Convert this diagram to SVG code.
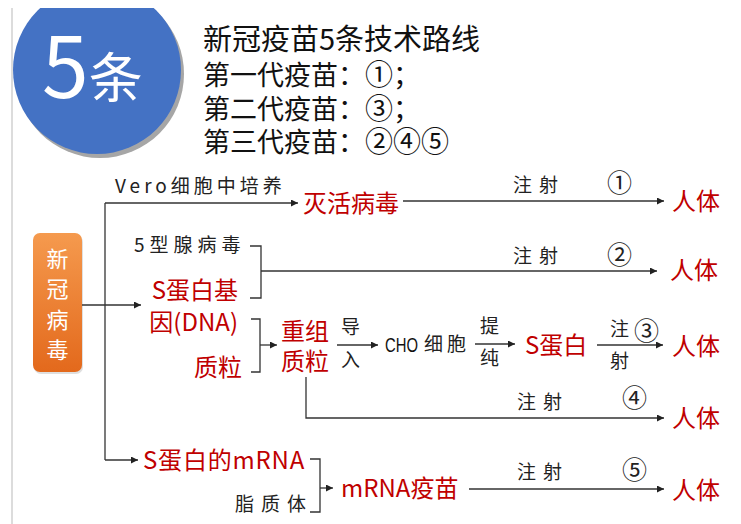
<svg xmlns="http://www.w3.org/2000/svg" width="741" height="524" viewBox="0 0 741 524">
<style>
.cjk{font-family:"Noto Sans CJK SC","Noto Sans",sans-serif}
.red{fill:#c00000;font-size:24px}
.lab{fill:#222;font-size:19px}
.num{fill:#222;font-size:25px}
.ln{stroke:#333;stroke-width:1.3;fill:none}
.br{stroke:#333;stroke-width:1.3;fill:none}
</style>
<defs>
<marker id="ah" markerUnits="userSpaceOnUse" markerWidth="8" markerHeight="8" refX="7" refY="3.5" orient="auto">
<path d="M0,0 L7,3.5 L0,7 z" fill="#222"/>
</marker>
<linearGradient id="og" x1="0" y1="0" x2="0" y2="1">
<stop offset="0" stop-color="#f59a4e"/>
<stop offset="1" stop-color="#e3691c"/>
</linearGradient>
<clipPath id="cp"><rect x="12" y="8" width="729" height="516"/></clipPath>
</defs>
<rect x="0" y="0" width="741" height="524" fill="#fff"/>
<line x1="12" y1="8" x2="12" y2="524" stroke="#dcdcdc" stroke-width="2"/>
<g id="badge" clip-path="url(#cp)">
<circle cx="100" cy="74" r="84" fill="#a6a6a6"/>
<circle cx="97" cy="70" r="84" fill="#4472c4"/>
<text class="cjk" x="42" y="98" fill="#fff"><tspan font-size="84">5</tspan><tspan font-size="54">条</tspan></text>
</g>
<g id="title" class="cjk" fill="#111">
<text x="203" y="50" font-size="29">新冠疫苗5条技术路线</text>
<text x="203" y="85" font-size="27">第一代疫苗：<tspan font-size="28">①</tspan>；</text>
<text x="203" y="119" font-size="27">第二代疫苗：<tspan font-size="28">③</tspan>；</text>
<text x="203" y="152" font-size="27">第三代疫苗：<tspan font-size="28">②④⑤</tspan></text>
</g>
<g id="virus">
<rect x="34" y="235" width="49" height="139" rx="7" fill="#c9c9c9" opacity="0.6"/>
<rect x="33" y="233" width="49" height="139" rx="7" fill="url(#og)"/>
<g class="cjk" fill="#fff" font-size="22" text-anchor="middle">
<text x="57.5" y="267">新</text>
<text x="57.5" y="297">冠</text>
<text x="57.5" y="328">病</text>
<text x="57.5" y="358">毒</text>
</g>
</g>
<g id="connectors">
<line class="ln" x1="82" y1="305" x2="141" y2="305" marker-end="url(#ah)"/>
<line class="ln" x1="105" y1="203" x2="105" y2="460"/>
<line class="ln" x1="105" y1="203" x2="298" y2="203" marker-end="url(#ah)"/>
<line class="ln" x1="105" y1="460" x2="138" y2="460" marker-end="url(#ah)"/>
<line class="ln" x1="403" y1="201" x2="664" y2="201" marker-end="url(#ah)"/>
<path class="br" d="M250,246 H261 V298 H250"/>
<line class="ln" x1="261" y1="271" x2="657" y2="271" marker-end="url(#ah)"/>
<path class="br" d="M251,319 H260 V372 H251"/>
<line class="ln" x1="260" y1="345" x2="277" y2="345" marker-end="url(#ah)"/>
<line class="ln" x1="337" y1="345" x2="378" y2="345" marker-end="url(#ah)"/>
<line class="ln" x1="475" y1="344" x2="515" y2="344" marker-end="url(#ah)"/>
<line class="ln" x1="597" y1="345" x2="663" y2="345" marker-end="url(#ah)"/>
<path class="ln" d="M306,377 V418 H664" marker-end="url(#ah)"/>
<path class="br" d="M310,459 H320 V512 H310"/>
<line class="ln" x1="320" y1="488" x2="333" y2="488" marker-end="url(#ah)"/>
<line class="ln" x1="469" y1="489" x2="664" y2="489" marker-end="url(#ah)"/>
</g>
<g id="route1" class="cjk">
<text class="lab" x="115" y="193" letter-spacing="4">Vero细胞中培养</text>
<text class="red" x="303" y="212">灭活病毒</text>
<text class="lab" x="513" y="192" letter-spacing="7">注射</text>
<text class="num" x="607" y="192">①</text>
<text class="red" x="672" y="210">人体</text>
</g>
<g id="route2" class="cjk">
<text class="lab" x="134" y="252" letter-spacing="5">5型腺病毒</text>
<text class="red" x="238" y="299" text-anchor="end">S蛋白基</text>
<text class="red" x="238" y="331" text-anchor="end">因(DNA)</text>
<text class="lab" x="513" y="263" letter-spacing="7">注射</text>
<text class="num" x="607" y="264">②</text>
<text class="red" x="670" y="279">人体</text>
</g>
<g id="route3" class="cjk">
<text class="red" x="242" y="376" text-anchor="end">质粒</text>
<text class="red" x="281" y="340" font-size="23">重组</text>
<text class="red" x="281" y="370" font-size="23">质粒</text>
<text class="lab" x="341" y="334">导</text>
<text class="lab" x="341" y="367">入</text>
<text x="385" y="352" fill="#111" font-size="20" font-family="Liberation Sans, sans-serif" textLength="33" lengthAdjust="spacingAndGlyphs">CHO</text>
<text class="lab" x="424" y="351" letter-spacing="4">细胞</text>
<text class="lab" x="480" y="333">提</text>
<text class="lab" x="480" y="365">纯</text>
<text class="red" x="525" y="354">S蛋白</text>
<text class="lab" x="610" y="336">注</text>
<text class="num" x="634" y="340">③</text>
<text class="lab" x="610" y="368">射</text>
<text class="red" x="672" y="355">人体</text>
</g>
<g id="route4" class="cjk">
<text class="lab" x="517" y="409" letter-spacing="7">注射</text>
<text class="num" x="622" y="407">④</text>
<text class="red" x="672" y="427">人体</text>
</g>
<g id="route5" class="cjk">
<text class="red" x="143" y="469" letter-spacing="0.8">S蛋白的mRNA</text>
<text class="lab" x="235" y="511" letter-spacing="7">脂质体</text>
<text class="red" x="341" y="497">mRNA疫苗</text>
<text class="lab" x="517" y="479" letter-spacing="7">注射</text>
<text class="num" x="622" y="479">⑤</text>
<text class="red" x="672" y="499">人体</text>
</g>
</svg>
